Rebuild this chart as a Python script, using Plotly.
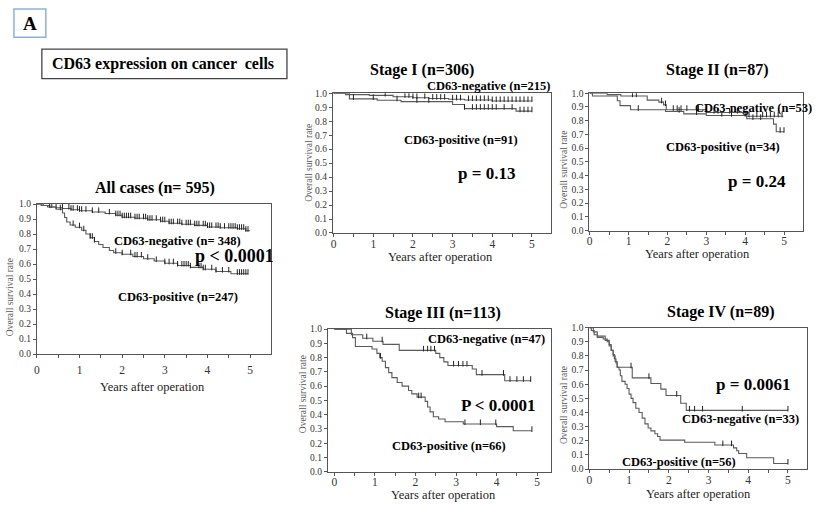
import plotly.graph_objects as go

W, H = 816, 515
FONT = "Liberation Serif"
LINE_C = "#5a5a5a"
MARK_C = "#222222"

# ---------------- data ----------------
# All cases
all_neg_t = [0, 0.15, 0.3, 0.45, 0.6, 0.8, 1.0, 1.3, 1.6, 1.85, 2.0, 2.3, 2.6, 2.9, 3.1, 3.4, 3.7, 4.0, 4.3, 4.7, 4.9, 5.0]
all_neg_s = [1.0, 0.99, 0.98, 0.975, 0.97, 0.962, 0.955, 0.947, 0.937, 0.925, 0.912, 0.905, 0.895, 0.885, 0.872, 0.865, 0.858, 0.847, 0.842, 0.835, 0.822, 0.822]
all_neg_c = [0.35, 0.45, 0.6, 0.75, 0.8, 0.85, 0.95, 1.0, 1.05, 1.15, 1.3, 1.45, 1.7, 1.85, 1.9, 1.95, 2.0, 2.05, 2.1, 2.15,
             2.2, 2.3, 2.35, 2.4, 2.5, 2.55, 2.6, 2.65, 2.7, 2.8, 2.9, 2.95, 3.0, 3.1, 3.15, 3.2, 3.3, 3.35, 3.4, 3.5,
             3.55, 3.6, 3.7, 3.75, 3.8, 3.9, 3.95, 4.0, 4.05, 4.1, 4.2, 4.25, 4.3, 4.4, 4.5, 4.55, 4.6, 4.65, 4.7, 4.75,
             4.8, 4.85, 4.9, 4.95]
all_pos_t = [0, 0.1, 0.25, 0.45, 0.6, 0.65, 0.7, 0.78, 0.9, 1.05, 1.15, 1.25, 1.35, 1.45, 1.55, 1.7, 1.8, 2.0, 2.25, 2.5,
             2.75, 3.0, 3.3, 3.6, 3.9, 4.2, 4.55, 4.95]
all_pos_s = [1.0, 0.99, 0.98, 0.965, 0.94, 0.91, 0.88, 0.86, 0.845, 0.825, 0.8, 0.775, 0.75, 0.73, 0.71, 0.69, 0.675, 0.665,
             0.65, 0.635, 0.62, 0.605, 0.59, 0.578, 0.565, 0.55, 0.535, 0.535]
all_pos_c = [0.3, 0.55, 0.85, 1.0, 1.1, 1.25, 1.3, 1.35, 1.85, 2.0, 2.2, 2.3, 2.35, 2.45, 2.6, 2.8, 3.0, 3.1, 3.2, 3.3,
             3.4, 3.45, 3.5, 3.55, 3.6, 3.8, 3.85, 3.9, 3.95, 4.1, 4.2, 4.35, 4.5, 4.7, 4.75, 4.8, 4.85, 4.9, 4.95]

# Stage I
s1_neg_t = [0, 0.3, 0.9, 1.5, 2.0, 2.4, 2.9, 3.3, 4.0, 5.0]
s1_neg_s = [1.0, 0.99, 0.985, 0.975, 0.968, 0.962, 0.957, 0.952, 0.945, 0.945]
s1_neg_c = [1.3, 1.8, 1.9, 2.0, 2.1, 2.3, 2.5, 2.6, 2.7, 2.8, 3.0, 3.1, 3.2, 3.4, 3.5, 3.6, 3.7, 3.8, 3.9, 4.0,
            4.1, 4.2, 4.3, 4.4, 4.5, 4.6, 4.7, 4.8, 4.9, 5.0]
s1_pos_t = [0, 0.4, 1.1, 1.7, 3.0, 3.3, 4.6, 5.0]
s1_pos_s = [1.0, 0.96, 0.95, 0.94, 0.92, 0.89, 0.872, 0.872]
s1_pos_c = [0.5, 1.0, 1.6, 2.1, 2.4, 3.3, 3.5, 3.6, 3.7, 3.8, 3.9, 4.0, 4.1, 4.3, 4.5, 4.7, 4.8, 4.9, 5.0]

# Stage II
s2_neg_t = [0, 0.45, 0.8, 1.48, 1.78, 1.9, 1.97, 3.0, 4.04, 4.98]
s2_neg_s = [1.0, 0.99, 0.98, 0.95, 0.935, 0.915, 0.88, 0.86, 0.833, 0.833]
s2_neg_c = [1.1, 1.2, 1.85, 1.95, 2.15, 2.25, 2.35, 2.5, 2.8, 3.0, 3.2, 3.3, 3.6, 3.8, 4.1, 4.3, 4.45, 4.55, 4.65,
            4.75, 4.85, 4.95]
s2_pos_t = [0, 0.07, 0.71, 0.78, 1.05, 1.95, 2.42, 3.0, 4.04, 4.73, 4.8, 5.0]
s2_pos_s = [1.0, 0.98, 0.945, 0.91, 0.88, 0.867, 0.85, 0.838, 0.814, 0.775, 0.72, 0.72]
s2_pos_c = [1.25, 2.3, 2.75, 3.4, 3.65, 4.0, 4.2, 4.4, 4.9, 5.0]

# Stage III
s3_neg_t = [0, 0.42, 0.7, 0.95, 1.2, 1.6, 2.5, 2.6, 2.7, 2.8, 3.4, 3.5, 4.2, 4.85]
s3_neg_s = [1.0, 0.96, 0.936, 0.915, 0.893, 0.851, 0.83, 0.80, 0.77, 0.745, 0.72, 0.681, 0.638, 0.638]
s3_neg_c = [0.8, 1.18, 2.2, 2.3, 2.38, 2.47, 2.94, 3.06, 3.17, 3.27, 3.64, 4.17, 4.33, 4.5, 4.66, 4.84]
s3_pos_t = [0, 0.3, 0.45, 0.52, 0.93, 1.05, 1.12, 1.18, 1.26, 1.34, 1.42, 1.55, 1.67, 1.83, 1.91, 2.04, 2.24, 2.3,
            2.36, 2.44, 2.57, 2.73, 3.18, 4.0, 4.41, 4.87]
s3_pos_s = [1.0, 0.97, 0.94, 0.878, 0.86, 0.83, 0.8, 0.775, 0.73, 0.695, 0.66, 0.626, 0.6, 0.57, 0.546, 0.523, 0.493,
            0.454, 0.42, 0.385, 0.37, 0.35, 0.335, 0.316, 0.287, 0.287]
s3_pos_c = [1.14, 2.08, 2.14, 3.22, 3.6, 3.98, 4.87]

# Stage IV
s4_neg_t = [0, 0.1, 0.2, 0.4, 0.5, 0.55, 0.6, 0.63, 0.67, 0.7, 1.08, 1.55, 1.8, 1.93, 2.3, 2.44, 5.0]
s4_neg_s = [1.0, 0.97, 0.94, 0.91, 0.88, 0.84, 0.81, 0.78, 0.75, 0.72, 0.645, 0.605, 0.565, 0.52, 0.465, 0.415, 0.415]
s4_neg_c = [1.05, 1.5, 2.2, 2.52, 2.65, 2.85, 3.85, 5.0]
s4_pos_t = [0, 0.05, 0.12, 0.2, 0.35, 0.45, 0.5, 0.55, 0.6, 0.65, 0.7, 0.75, 0.78, 0.82, 0.9, 0.95, 1.0, 1.05, 1.1,
            1.17, 1.25, 1.33, 1.4, 1.48, 1.55, 1.65, 1.72, 1.78, 2.4, 3.16, 3.63, 3.71, 3.76, 3.96, 4.64, 5.0]
s4_pos_s = [1.0, 0.98, 0.95, 0.93, 0.92, 0.9, 0.87, 0.84, 0.8, 0.76, 0.72, 0.7, 0.66, 0.62, 0.6, 0.57, 0.53, 0.5, 0.47,
            0.43, 0.4, 0.36, 0.32, 0.29, 0.27, 0.25, 0.23, 0.205, 0.19, 0.17, 0.15, 0.13, 0.11, 0.08, 0.04, 0.04]
s4_pos_c = [3.36, 3.58, 5.0]

year_ticks = [0, 1, 2, 3, 4, 5]
surv_ticks = [0.0, 0.1, 0.2, 0.3, 0.4, 0.5, 0.6, 0.7, 0.8, 0.9, 1.0]

# ---------------- panel geometry (pixels) ----------------
panels = [
    dict(x0=34, x1=269, yt=203, yb=356, xr=[0, 5.49], so=2,
         curves=[(all_neg_t, all_neg_s, all_neg_c), (all_pos_t, all_pos_s, all_pos_c)]),
    dict(x0=331, x1=550, yt=90, yb=232.5, xr=[-0.02, 5.48], so=-3,
         curves=[(s1_neg_t, s1_neg_s, s1_neg_c), (s1_pos_t, s1_pos_s, s1_pos_c)]),
    dict(x0=588.5, x1=803, yt=90, yb=230, xr=[-0.01, 5.49], so=-3,
         curves=[(s2_neg_t, s2_neg_s, s2_neg_c), (s2_pos_t, s2_pos_s, s2_pos_c)]),
    dict(x0=326, x1=550, yt=330.5, yb=476, xr=[-0.16, 5.34], so=-4,
         curves=[(s3_neg_t, s3_neg_s, s3_neg_c), (s3_pos_t, s3_pos_s, s3_pos_c)]),
    dict(x0=588.5, x1=807, yt=329, yb=473.3, xr=[0, 5.48], so=-3,
         curves=[(s4_neg_t, s4_neg_s, s4_neg_c), (s4_pos_t, s4_pos_s, s4_pos_c)]),
]


def step_value(t, s, c):
    v = s[0]
    for ti, si in zip(t, s):
        if ti <= c:
            v = si
    return v


fig = go.Figure()
layout = {}
for i, p in enumerate(panels):
    n = "" if i == 0 else str(i + 1)
    xa, ya = "x" + n, "y" + n
    for t, s, c in p["curves"]:
        fig.add_trace(go.Scatter(x=t, y=s, mode="lines", line=dict(color=LINE_C, width=1.1, shape="hv"),
                                 xaxis=xa, yaxis=ya, showlegend=False, hoverinfo="skip"))
        fig.add_trace(go.Scatter(x=c, y=[step_value(t, s, ci) + 0.012 for ci in c], mode="markers",
                                 marker=dict(symbol="line-ns", size=4, line=dict(color=MARK_C, width=1)),
                                 xaxis=xa, yaxis=ya, showlegend=False, hoverinfo="skip"))
    layout["xaxis" + n] = dict(
        domain=[p["x0"] / W, p["x1"] / W], range=p["xr"], anchor=ya,
        showline=True, linecolor="#555", linewidth=1, mirror=True, showgrid=False, zeroline=False,
        tickvals=year_ticks, ticktext=[str(v) for v in year_ticks], ticks="outside", ticklen=3,
        tickcolor="#555", tickfont=dict(family=FONT, size=11.5, color="#333"), ticklabelstandoff=int(p["so"]),
        minor=dict(dtick=0.5, tick0=0, ticks="outside", ticklen=3, tickcolor="#555"),
        fixedrange=True)
    layout["yaxis" + n] = dict(
        domain=[1 - p["yb"] / H, 1 - p["yt"] / H], range=[0, 1.0], anchor=xa,
        showline=True, linecolor="#555", linewidth=1, mirror=True, showgrid=False, zeroline=False,
        tickvals=surv_ticks, ticktext=["%.1f" % v for v in surv_ticks], ticks="outside", ticklen=3,
        tickcolor="#555", tickfont=dict(family=FONT, size=9.5, color="#333"), fixedrange=True)

fig.update_layout(**layout)

ann = []


def txt(x, y, text, size, bold=True, color="#000", angle=0):
    ann.append(dict(x=x / W, y=1 - y / H, xref="paper", yref="paper", text=text, showarrow=False,
                    xanchor="center", yanchor="middle", textangle=angle,
                    font=dict(family=FONT, size=size, color=color, weight="bold" if bold else "normal")))


# header
txt(27, 19, "A", 19)
txt(161, 60, "CD63 expression on cancer  cells", 16)

# panel titles
txt(153, 187, "All cases (n= 595)", 16)
txt(421, 66, "Stage I (n=306)", 16)
txt(717, 66, "Stage II (n=87)", 16)
txt(442, 314, "Stage III (n=113)", 16)
txt(721, 313, "Stage IV (n=89)", 16)

# x-axis titles
txt(150, 390, "Years after operation", 12.5, bold=False, color="#222")
txt(439, 257, "Years after operation", 12.5, bold=False, color="#222")
txt(697, 254, "Years after operation", 12.5, bold=False, color="#222")
txt(442, 500, "Years after operation", 12.5, bold=False, color="#222")
txt(698, 499, "Years after operation", 12.5, bold=False, color="#222")

# y-axis titles
txt(7, 298, "Overall survival rate", 9.5, bold=False, color="#555", angle=-90)
txt(307, 161, "Overall survival rate", 9.5, bold=False, color="#555", angle=-90)
txt(563, 168, "Overall survival rate", 9.5, bold=False, color="#555", angle=-90)
txt(301, 397, "Overall survival rate", 9.5, bold=False, color="#555", angle=-90)
txt(563, 408, "Overall survival rate", 9.5, bold=False, color="#555", angle=-90)

# group labels and p-values
txt(175, 241, "CD63-negative (n= 348)", 12.5)
txt(232, 256, "p < 0.0001", 18)
txt(176, 298, "CD63-positive (n=247)", 12.5)

txt(487, 83, "CD63-negative (n=215)", 12.5)
txt(460, 138, "CD63-positive (n=91)", 12.5)
txt(485, 172, "p = 0.13", 17)

txt(753, 105, "CD63-negative (n=53)", 12.5)
txt(723, 145, "CD63-positive (n=34)", 12.5)
txt(757, 180, "p = 0.24", 17)

txt(485, 341, "CD63-negative (n=47)", 12.5)
txt(497, 408, "P < 0.0001", 17)
txt(448, 450, "CD63-positive (n=66)", 12.5)

txt(753, 387, "p = 0.0061", 17)
txt(740, 422, "CD63-negative (n=33)", 12.5)
txt(678, 466, "CD63-positive (n=56)", 12.5)

shapes = [
    dict(type="rect", xref="paper", yref="paper", x0=11 / W, x1=43 / W, y0=1 - 33 / H, y1=1 - 4 / H,
         line=dict(color="#8fb0d6", width=1.5), fillcolor="rgba(0,0,0,0)"),
    dict(type="rect", xref="paper", yref="paper", x0=39 / W, x1=285 / W, y0=1 - 75 / H, y1=1 - 45 / H,
         line=dict(color="#444", width=1.3), fillcolor="rgba(0,0,0,0)"),
]

fig.update_layout(width=W, height=H, margin=dict(l=0, r=0, t=0, b=0), paper_bgcolor="white",
                  plot_bgcolor="white", annotations=ann, shapes=shapes, showlegend=False)

fig.write_html("out.html")
